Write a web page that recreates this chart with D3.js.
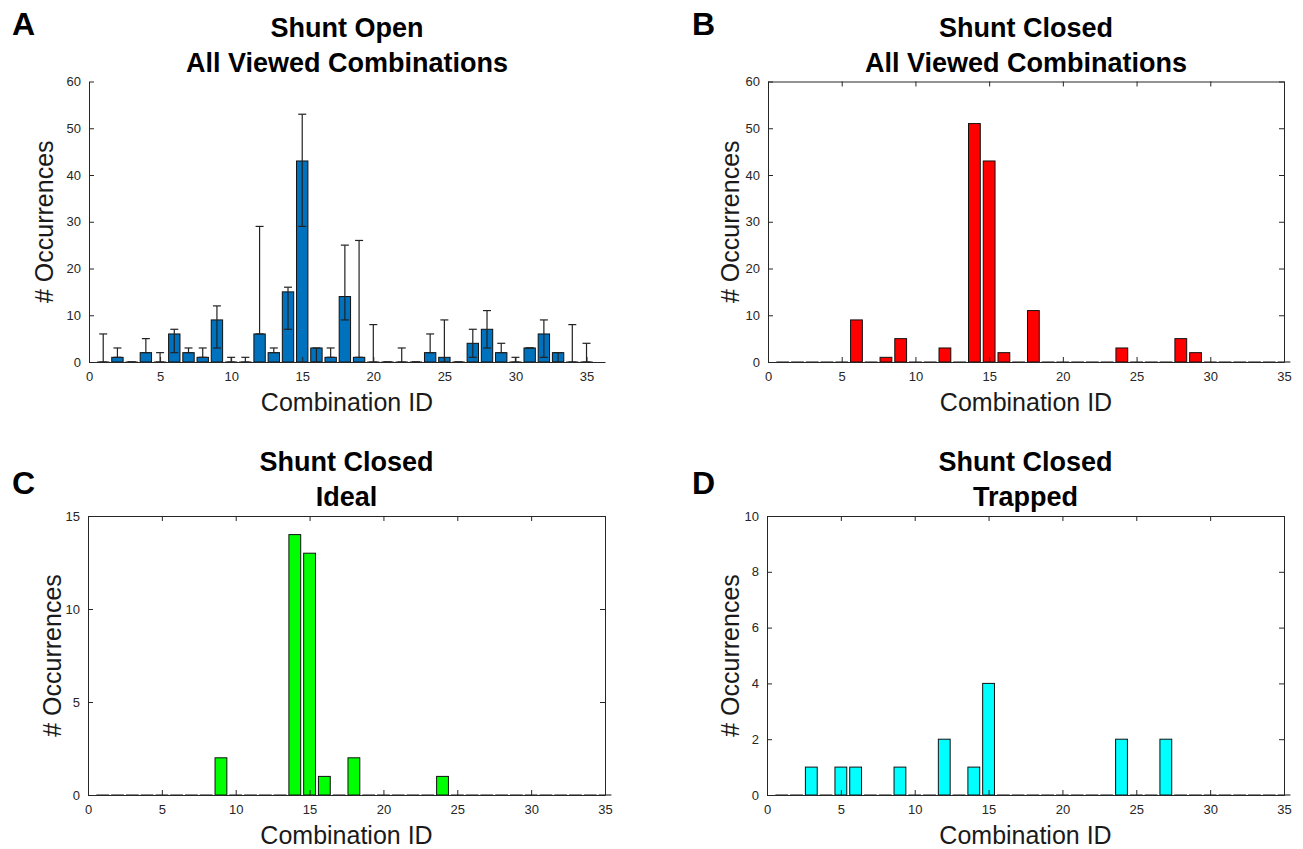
<!DOCTYPE html>
<html>
<head>
<meta charset="utf-8">
<script src="https://cdn.jsdelivr.net/npm/d3@7"></script>
<style>
  body { margin: 0; background: #fff; }
  svg { display: block; }
</style>
</head>
<body>
<div id="chart"></div>
<script>
// Combination IDs shared by all four panels
const comboIds = [1, 2, 3, 4, 5, 6, 7, 8, 9, 10, 11, 12, 13, 14, 15, 16, 17, 18, 19, 20,
  21, 22, 23, 24, 25, 26, 27, 28, 29, 30, 31, 32, 33, 34, 35]

// A - shunt open, all viewed combinations (bar value + error bar ends)
const openAll = [0, 1, 0, 2, 0, 6, 2, 1, 9, 0, 0, 6, 2, 15, 43, 3, 1, 14, 1, 0,
  0, 0, 0, 2, 1, 0, 4, 7, 2, 0, 3, 6, 2, 0, 0]
const openAllLow = [0, 1, 0, 2, 0, 2, 2, 1, 3, 0, 0, 6, 2, 7, 29, 0, 1, 9, 1, 0,
  0, 0, 0, 2, 0, 0, 1, 3, 2, 0, 3, 1, 0, 0, 0]
const openAllHigh = [6, 3, 0, 5, 2, 7, 3, 3, 12, 1, 1, 29, 3, 16, 53, 3, 3, 25, 26, 8,
  0, 3, 0, 6, 9, 0, 7, 11, 4, 1, 3, 9, 2, 8, 4]

// B - shunt closed, all viewed combinations
const closedAll = [0, 0, 0, 0, 0, 9, 0, 1, 5, 0, 0, 3, 0, 51, 43, 2, 0, 11, 0, 0,
  0, 0, 0, 3, 0, 0, 0, 5, 2, 0, 0, 0, 0, 0, 0]

// C - shunt closed, ideal
const closedIdeal = [0, 0, 0, 0, 0, 0, 0, 0, 2, 0, 0, 0, 0, 14, 13, 1, 0, 2, 0, 0,
  0, 0, 0, 1, 0, 0, 0, 0, 0, 0, 0, 0, 0, 0, 0]

// D - shunt closed, trapped
const closedTrapped = [0, 0, 1, 0, 1, 1, 0, 0, 1, 0, 0, 2, 0, 1, 4, 0, 0, 0, 0, 0,
  0, 0, 0, 2, 0, 0, 2, 0, 0, 0, 0, 0, 0, 0, 0]

const xTicks = [0, 5, 10, 15, 20, 25, 30, 35]

// Panel layout
const panels = [
  { letter: 'A', title: ['Shunt Open', 'All Viewed Combinations'], values: openAll,
    low: openAllLow, high: openAllHigh, color: '#0072BD',
    left: 89, right: 605, top: 81.5, bottom: 362, xMax: 36.3, yMax: 60,
    yTicks: [0, 10, 20, 30, 40, 50, 60], box: false, yLabelOff: 36, lx: 12, ly: 35 },
  { letter: 'B', title: ['Shunt Closed', 'All Viewed Combinations'], values: closedAll,
    color: '#FF0000',
    left: 768, right: 1284, top: 81.5, bottom: 362, xMax: 35, yMax: 60,
    yTicks: [0, 10, 20, 30, 40, 50, 60], box: true, yLabelOff: 29, lx: 692, ly: 35 },
  { letter: 'C', title: ['Shunt Closed', 'Ideal'], values: closedIdeal,
    color: '#00FF00',
    left: 88, right: 605, top: 516, bottom: 795, xMax: 35, yMax: 15,
    yTicks: [0, 5, 10, 15], box: true, yLabelOff: 27, lx: 12, ly: 494 },
  { letter: 'D', title: ['Shunt Closed', 'Trapped'], values: closedTrapped,
    color: '#00FFFF',
    left: 767, right: 1284, top: 516, bottom: 795, xMax: 35, yMax: 10,
    yTicks: [0, 2, 4, 6, 8, 10], box: true, yLabelOff: 28, lx: 692, ly: 494 }
]

const svg = d3.select('#chart')
  .append('svg')
  .attr('width', 1303)
  .attr('height', 849)
  .style('font-family', '"Liberation Sans", Arial, sans-serif')

const axisColor = '#262626'
const tickLen = 5

panels.forEach(p => {
  const x = d3.scaleLinear().domain([0, p.xMax]).range([p.left, p.right])
  const y = d3.scaleLinear().domain([0, p.yMax]).range([p.bottom, p.top])
  const g = svg.append('g')
  const cx = (p.left + p.right) / 2
  const barW = x(0.8) - x(0)

  // Panel letter
  g.append('text')
    .attr('x', p.lx).attr('y', p.ly)
    .style('font-size', '32px').style('font-weight', 'bold')
    .text(p.letter)

  // Title (two lines)
  p.title.forEach((t, i) => {
    g.append('text')
      .attr('x', cx).attr('y', p.top - 45 + i * 35)
      .attr('text-anchor', 'middle')
      .style('font-size', '27px').style('font-weight', 'bold')
      .text(t)
  })

  // Bars (zero bars keep a hairline height so their edge shows on the baseline)
  g.selectAll('.bar')
    .data(comboIds)
    .join('rect')
    .attr('class', 'bar')
    .attr('x', d => x(d) - barW / 2)
    .attr('width', barW)
    .attr('y', (d, i) => y(p.values[i]))
    .attr('height', (d, i) => Math.max(y(0) - y(p.values[i]), 0.01))
    .style('fill', p.color)
    .style('stroke', '#111')
    .style('stroke-width', 1)

  // Error bars (panel A only)
  if (p.low) {
    const capW = 8
    const eb = g.selectAll('.err')
      .data(comboIds)
      .join('g')
      .attr('class', 'err')
      .style('stroke', '#222')
      .style('stroke-width', 1.2)
    eb.append('line')
      .attr('x1', d => x(d)).attr('x2', d => x(d))
      .attr('y1', (d, i) => y(p.low[i])).attr('y2', (d, i) => y(p.high[i]))
    eb.append('line')
      .attr('x1', d => x(d) - capW / 2).attr('x2', d => x(d) + capW / 2)
      .attr('y1', (d, i) => y(p.high[i])).attr('y2', (d, i) => y(p.high[i]))
    eb.append('line')
      .attr('x1', d => x(d) - capW / 2).attr('x2', d => x(d) + capW / 2)
      .attr('y1', (d, i) => y(p.low[i])).attr('y2', (d, i) => y(p.low[i]))
  }

  // Axes - inward ticks, MATLAB style
  const styleAxis = a => {
    a.select('.domain').style('stroke', axisColor)
    a.selectAll('.tick line').style('stroke', axisColor)
    a.selectAll('.tick text').style('fill', axisColor).style('font-size', '13px')
      .style('font-family', '"Liberation Sans", Arial, sans-serif')
  }
  g.append('g')
    .attr('transform', `translate(0,${p.bottom})`)
    .call(d3.axisBottom(x).tickValues(xTicks).tickSizeInner(-tickLen).tickSizeOuter(0).tickPadding(10))
    .call(styleAxis)
  g.append('g')
    .attr('transform', `translate(${p.left},0)`)
    .call(d3.axisLeft(y).tickValues(p.yTicks).tickSizeInner(-tickLen).tickSizeOuter(0).tickPadding(8))
    .call(styleAxis)

  if (p.box) {
    g.append('g')
      .attr('transform', `translate(0,${p.top})`)
      .call(d3.axisTop(x).tickValues(xTicks).tickSizeInner(-tickLen).tickSizeOuter(0).tickFormat(''))
      .call(styleAxis)
    g.append('g')
      .attr('transform', `translate(${p.right},0)`)
      .call(d3.axisRight(y).tickValues(p.yTicks).tickSizeInner(-tickLen).tickSizeOuter(0).tickFormat(''))
      .call(styleAxis)
  }

  // Axis labels
  g.append('text')
    .attr('x', cx).attr('y', p.bottom + 49)
    .attr('text-anchor', 'middle')
    .style('font-size', '25px').style('fill', '#1a1a1a')
    .text('Combination ID')
  g.append('text')
    .attr('transform', `translate(${p.left - p.yLabelOff},${(p.top + p.bottom) / 2}) rotate(-90)`)
    .attr('text-anchor', 'middle')
    .style('font-size', '25px').style('fill', '#1a1a1a')
    .text('# Occurrences')
})
</script>
</body>
</html>
